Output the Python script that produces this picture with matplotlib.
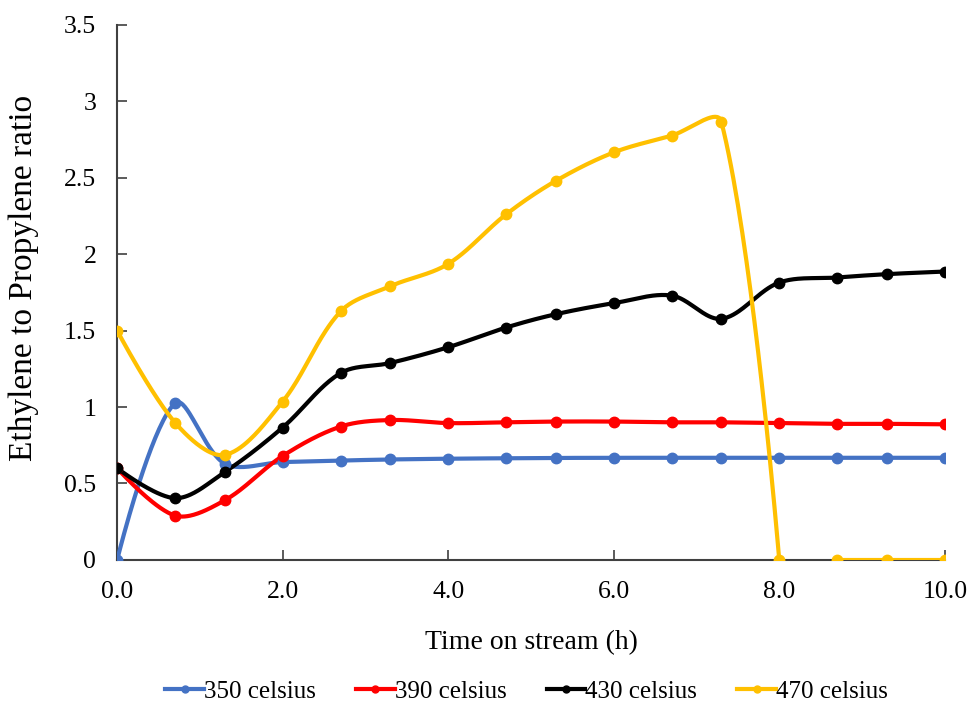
import numpy as np
import matplotlib.pyplot as plt

# time on stream (h) and ratios
time_h = [0.0, 0.7, 1.3, 2.0, 2.7, 3.3, 4.0, 4.7, 5.3, 6.0, 6.7, 7.3, 8.0, 8.7, 9.3, 10.0]
t350 = [0.0, 1.025, 0.63, 0.64, 0.65, 0.657, 0.662, 0.665, 0.667, 0.668, 0.668, 0.668, 0.668, 0.668, 0.668, 0.668]
t390 = [0.6, 0.29, 0.39, 0.68, 0.872, 0.915, 0.895, 0.9, 0.905, 0.905, 0.9, 0.9, 0.895, 0.89, 0.89, 0.887]
t430 = [0.6, 0.404, 0.575, 0.866, 1.222, 1.288, 1.391, 1.52, 1.607, 1.679, 1.729, 1.577, 1.814, 1.847, 1.869, 1.886]
# the 470 series has a break between 8.0 h and 8.7 h
t470_a = [1.5, 0.898, 0.687, 1.036, 1.625, 1.79, 1.936, 2.26, 2.479, 2.665, 2.775, 2.867, 0.0]
t470_b = [0.0, 0.0, 0.0]

labels = ["350 celsius", "390 celsius", "430 celsius", "470 celsius"]
colors = ["#4472C4", "#FF0000", "#000000", "#FFC000"]

plt.rcParams["font.family"] = ["Liberation Serif", "DejaVu Serif"]


def smooth(ax, x, y, n=40):
    # Excel-like smoothed line, built in pixel space with chord-weighted tangents
    pts = ax.transData.transform(np.column_stack([x, y]))
    m = len(pts)
    d = np.hypot(*np.diff(pts, axis=0).T)
    out = []
    s = np.linspace(0, 1, n)[:, None]
    for i in range(m - 1):
        p0, p3 = pts[i], pts[i + 1]
        prev = pts[i - 1] if i > 0 else pts[i]
        nxt = pts[i + 2] if i + 2 < m else pts[i + 1]
        dp = d[i - 1] if i > 0 else 0.0
        dn = d[i + 1] if i + 2 < m else 0.0
        c1 = p0 + (p3 - prev) * d[i] / (dp + d[i]) / 3 if i > 0 else p0
        c2 = p3 - (nxt - p0) * d[i] / (d[i] + dn) / 3 if i + 2 < m else p3
        b = (1 - s) ** 3 * p0 + 3 * (1 - s) ** 2 * s * c1 + 3 * (1 - s) * s ** 2 * c2 + s ** 3 * p3
        out.append(b)
    out = np.vstack(out)
    data = ax.transData.inverted().transform(out)
    return data[:, 0], data[:, 1]


fig = plt.figure(figsize=(9.68, 7.07), dpi=100)
ax = fig.add_axes([0.121, 0.208, 0.855, 0.757])
ax.set_xlim(0, 10)
ax.set_ylim(0, 3.5)

series = [(time_h, t350), (time_h, t390), (time_h, t430),
          (time_h[:13], t470_a), (time_h[13:], t470_b)]
series_color = [colors[0], colors[1], colors[2], colors[3], colors[3]]
for (x, y), c in zip(series, series_color):
    sx, sy = smooth(ax, x, y)
    ax.plot(sx, sy, color=c, lw=3, zorder=3, solid_capstyle="round")
    ax.plot(x, y, "o", color=c, ms=7.5, zorder=4)

for lab, c in zip(labels, colors):
    ax.plot([], [], "-o", color=c, lw=3, ms=5, label=lab)

ax.set_xticks(np.arange(0, 10.1, 2))
ax.set_xticklabels([f"{v:.1f}" for v in np.arange(0, 10.1, 2)])
ax.set_yticks(np.arange(0, 3.51, 0.5))
ax.set_yticklabels(["0", "0.5", "1", "1.5", "2", "2.5", "3", "3.5"])
ax.tick_params(direction="in", length=7, width=1.2, labelsize=18.5, pad=15, color="#404040")
for side in ["top", "right"]:
    ax.spines[side].set_visible(False)
for side in ["left", "bottom"]:
    ax.spines[side].set_linewidth(1.5)
    ax.spines[side].set_color("#404040")

ax.set_xlabel("Time on stream (h)", fontsize=20, labelpad=20)
ax.set_ylabel("Ethylene to Propylene ratio", fontsize=24)
ax.yaxis.set_label_coords(-0.095, 0.526)

fig.legend(loc="center", bbox_to_anchor=(0.544, 0.022), ncol=4, frameon=False,
           fontsize=18, handlelength=1.55, handletextpad=0.0, columnspacing=1.6)

fig.savefig("out.png", dpi=100)
